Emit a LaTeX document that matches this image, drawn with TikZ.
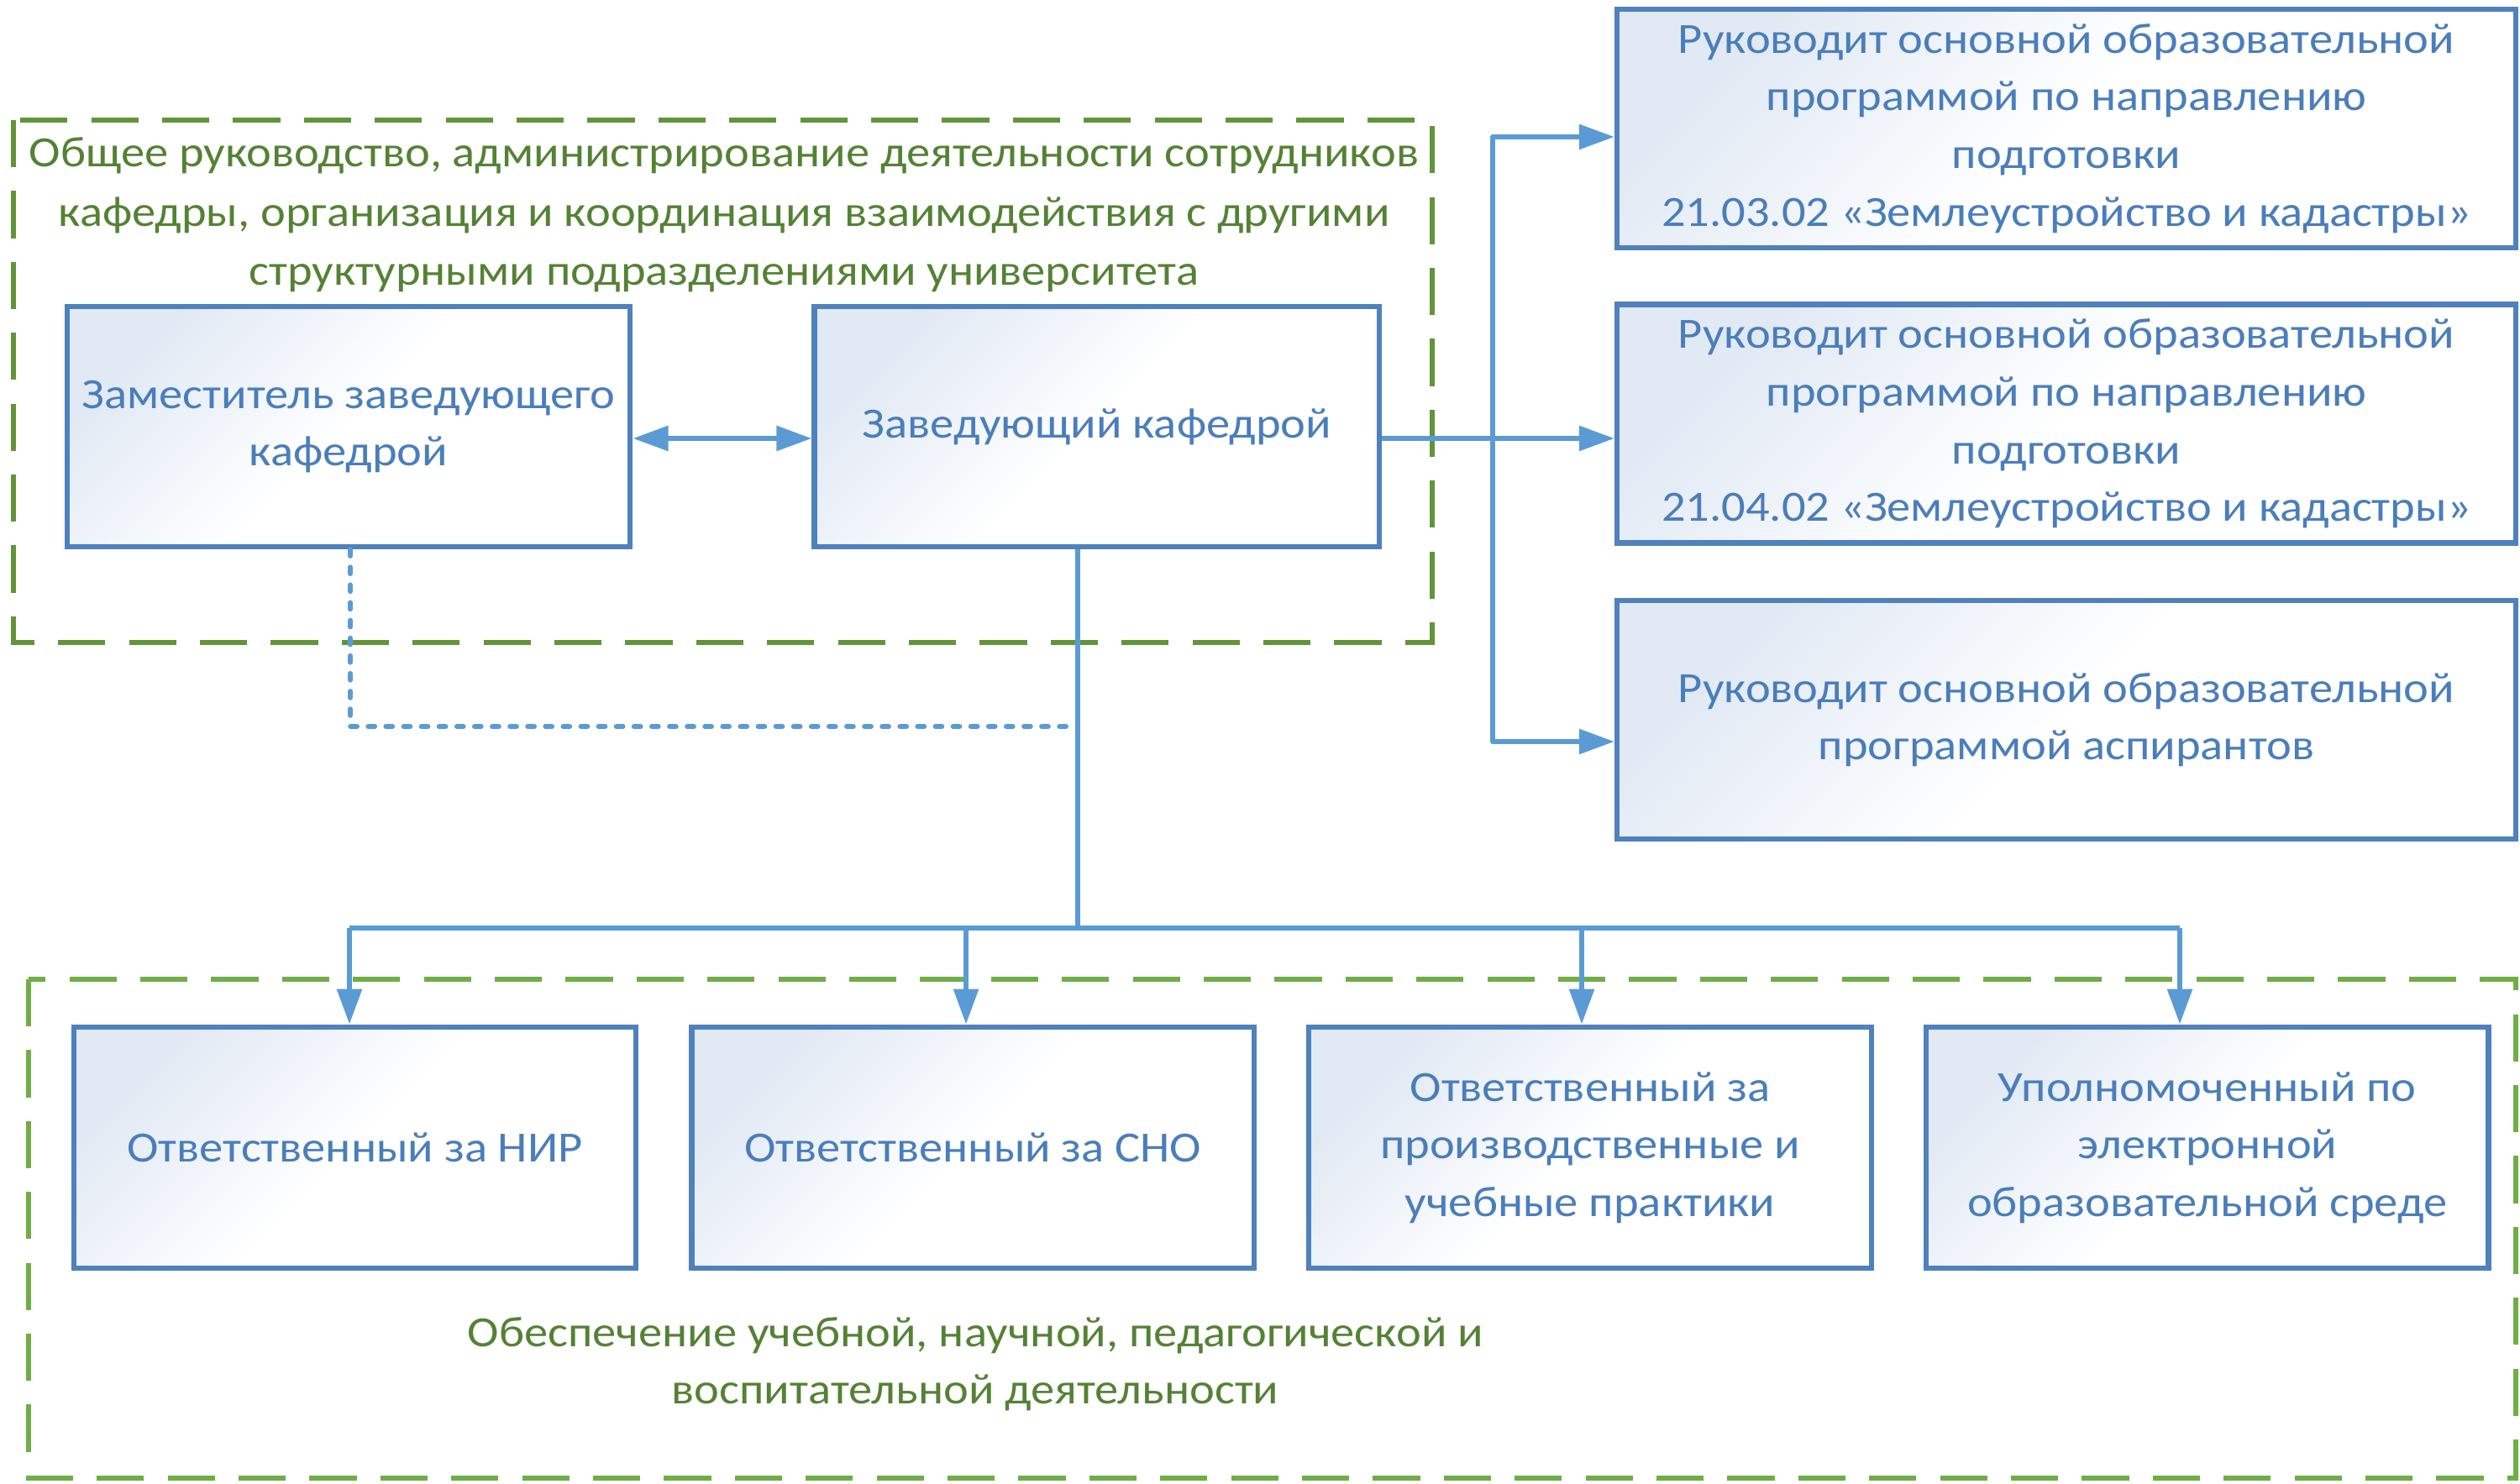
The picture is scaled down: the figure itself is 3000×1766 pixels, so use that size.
\documentclass[tikz,border=0pt]{standalone}
\usepackage{fontspec}
\setmainfont{Carlito}[FakeStretch=1.1]
\usetikzlibrary{positioning}
\usetikzlibrary{arrows.meta}

\definecolor{boxblue}{HTML}{4F81BD}
\definecolor{linkblue}{HTML}{5B9BD5}
\definecolor{textblue}{HTML}{4A7EBB}
\definecolor{boxfill}{HTML}{E1E9F4}
\definecolor{framegreen}{HTML}{629539}
\definecolor{framelightgreen}{HTML}{70AD47}
\definecolor{textgreen}{HTML}{548235}

\newcommand{\boxfont}{\fontsize{14.6pt}{19.5pt}\selectfont}

\begin{document}
\begin{tikzpicture}[x=0.01cm, y=-0.01cm,
            bluesquarednode/.style={rectangle, draw=boxblue, line width=1.8pt, top color=boxfill, bottom color=white, middle color=white, shading angle=45, text=textblue, align=center, font=\boxfont},
            smallbox/.style={bluesquarednode, minimum width=6.69cm, minimum height=2.87cm},
            progbox/.style={bluesquarednode, minimum width=10.69cm, minimum height=2.84cm},
            greenframe/.style={draw=framegreen, line width=1.85pt, dash pattern=on 16pt off 8pt},
            greenlabel/.style={text=textgreen, align=center},
            link/.style={draw=linkblue, line width=1.8pt, line join=round},
            arrowtip/.style={-{Triangle[length=12pt, width=8.2pt]}},
            dotline/.style={draw=linkblue, line width=1.7pt, line cap=round, dash pattern=on 2.2pt off 3.8pt},
            ]

            \useasboundingbox (0,0) rectangle (3000,1766);

            % groups
            \draw[greenframe] (16,143) rectangle (1705,765);
            \draw[greenframe, draw=framelightgreen] (34,1166) rectangle (2995,1760);

            \node[greenlabel, font=\fontsize{14.6pt}{20pt}\selectfont] (toplabel) at (862,256) {Общее руководство, администрирование деятельности сотрудников\\кафедры, организация и координация взаимодействия с другими\\структурными подразделениями университета};
            \node[greenlabel, font=\boxfont] (botlabel) at (1161,1624) {Обеспечение учебной, научной, педагогической и\\воспитательной деятельности};

            % heads
            \node[smallbox, minimum width=6.7cm, minimum height=2.86cm] (zam) at (415,508) {Заместитель заведующего\\кафедрой};
            \node[smallbox, minimum width=6.72cm, minimum height=2.86cm, right=2.13cm of zam] (zav) {Заведующий кафедрой};

            % programmes
            \node[progbox] (prog1) at (2460,153) {Руководит основной образовательной\\программой по направлению\\подготовки\\21.03.02 «Землеустройство и кадастры»};
            \node[progbox, below=0.61cm of prog1] (prog2) {Руководит основной образовательной\\программой по направлению\\подготовки\\21.04.02 «Землеустройство и кадастры»};
            \node[progbox, below=0.62cm of prog2] (prog3) {Руководит основной образовательной\\программой аспирантов};

            % staff
            \node[smallbox] (nir) at (422.5,1366.5) {Ответственный за НИР};
            \node[smallbox, right=0.60cm of nir] (sno) {Ответственный за СНО};
            \node[smallbox, right=0.59cm of sno] (prak) {Ответственный за\\производственные и\\учебные практики};
            \node[smallbox, right=0.59cm of prak] (eos) {Уполномоченный по\\электронной\\образовательной среде};

            \coordinate (row) at (0,522);
            \coordinate (s1) at (1777,163);
            \coordinate (s3) at (1777,883);
            \coordinate (b0) at (1283,1105);
            \coordinate (b1) at (416,1105);
            \coordinate (b2) at (1150,1105);
            \coordinate (b3) at (1883,1105);
            \coordinate (b4) at (2595,1105);
            \coordinate (d0) at (417,865);
            \coordinate (d1) at (1273,865);

            \draw[link, {Triangle[length=12pt, width=8.2pt]}-{Triangle[length=12pt, width=8.2pt]}] (zam.east |- row) -- (zav.west |- row);
            \draw[link, arrowtip] (zav.east |- row) -- (prog2.west |- row);
            \draw[link, {Triangle[length=12pt, width=8.2pt]}-{Triangle[length=12pt, width=8.2pt]}] (prog1.west |- s1) -- (s1) -- (s3) -- (prog3.west |- s3);

            \draw[link] (zav.south -| b0) -- (b0);
            \draw[link] (b1) -- (b4);
            \foreach \n/\b in {nir/b1, sno/b2, prak/b3, eos/b4}
                \draw[link, arrowtip] (\b) -- (\b |- \n.north);

            \draw[dotline] (zam.south -| d0) -- (d0) -- (d1);
        \end{tikzpicture}
\end{document}
